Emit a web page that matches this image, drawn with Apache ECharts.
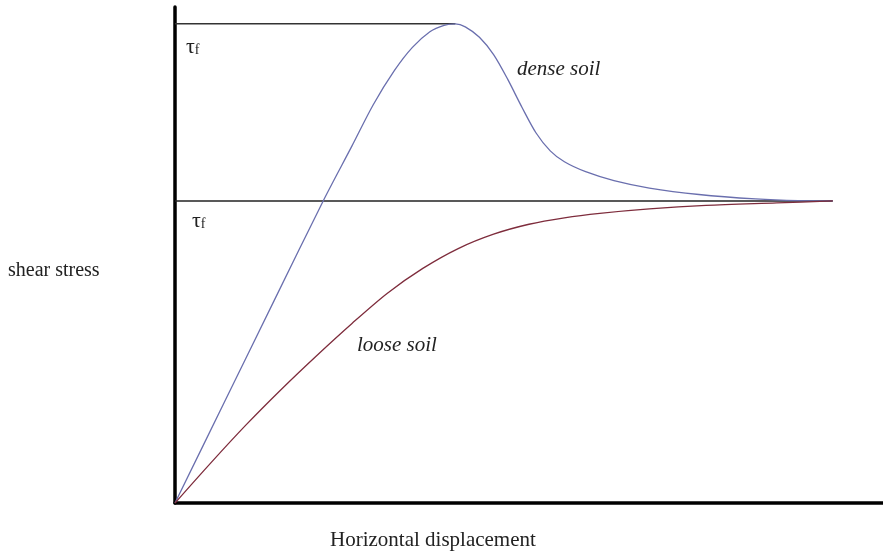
<!DOCTYPE html>
<html>
<head>
<meta charset="utf-8">
<script src="https://cdn.jsdelivr.net/npm/echarts@6/dist/echarts.min.js"></script>
<style>
  html, body { margin: 0; padding: 0; background: #fff; }
  #myChart { width: 883px; height: 557px; }
</style>
</head>
<body>
<div id="myChart"></div>
<script>
// displacement (x) and shear stress (y), arbitrary units
var denseX = [0, 7, 14, 21, 25, 28, 31, 33.5, 36, 38, 39.6, 41, 43, 45, 47, 49, 51, 53, 55, 58, 62, 67, 74, 82, 88, 92.9]
var denseY = [0, 20.4, 40.8, 61.1, 72.0, 80.3, 87.2, 91.8, 95.0, 96.3, 96.6, 96.0, 93.9, 90.4, 85.4, 79.8, 74.6, 71.0, 68.8, 66.8, 65.0, 63.5, 62.2, 61.3, 60.95, 60.9]
var looseX = [0, 5, 10, 15, 20, 25, 30, 35, 40, 45, 50, 55, 60, 67, 75, 85, 92.9]
var looseY = [0, 8.0, 15.7, 22.9, 29.7, 36.2, 42.3, 47.3, 51.3, 54.2, 56.2, 57.5, 58.4, 59.3, 60.0, 60.5, 60.9]
// peak and residual strength lines
var peakX = [0, 39.6]
var peakY = [96.6, 96.6]
var residualX = [0, 92.9]
var residualY = [60.9, 60.9]

function pairs (xs, ys) {
  return xs.map(function (x, i) { return [x, ys[i]] })
}

var serif = '"Liberation Serif", "Times New Roman", serif'

var myChart = echarts.init(document.getElementById('myChart'))
myChart.setOption({
  animation: false,
  backgroundColor: '#fff',
  grid: { left: 175, right: 0, top: 7, bottom: 54 },
  xAxis: {
    type: 'value',
    min: 0,
    max: 100,
    axisLine: { show: true, onZero: false, lineStyle: { color: '#000', width: 3.5 } },
    axisTick: { show: false },
    axisLabel: { show: false },
    splitLine: { show: false }
  },
  yAxis: {
    type: 'value',
    min: 0,
    max: 100,
    axisLine: { show: true, onZero: false, lineStyle: { color: '#000', width: 3.5 } },
    axisTick: { show: false },
    axisLabel: { show: false },
    splitLine: { show: false }
  },
  series: [
    {
      name: 'peak',
      type: 'line',
      data: pairs(peakX, peakY),
      symbol: 'none',
      lineStyle: { color: '#333', width: 1.5 }
    },
    {
      name: 'residual',
      type: 'line',
      data: pairs(residualX, residualY),
      symbol: 'none',
      lineStyle: { color: '#222', width: 1.5 }
    },
    {
      name: 'dense soil',
      type: 'line',
      data: pairs(denseX, denseY),
      symbol: 'none',
      smooth: 0.3,
      lineStyle: { color: '#6a6fae', width: 1.3 }
    },
    {
      name: 'loose soil',
      type: 'line',
      data: pairs(looseX, looseY),
      symbol: 'none',
      smooth: 0.3,
      lineStyle: { color: '#7e2c3c', width: 1.3 }
    }
  ],
  graphic: [
    {
      type: 'text', left: 186, top: 36,
      style: {
        text: '{t|τ}{s|f}',
        rich: {
          t: { fontFamily: serif, fontSize: 22, fill: '#222' },
          s: { fontFamily: serif, fontSize: 14, fill: '#222', padding: [7, 0, 0, 0] }
        }
      }
    },
    {
      type: 'text', left: 192, top: 210,
      style: {
        text: '{t|τ}{s|f}',
        rich: {
          t: { fontFamily: serif, fontSize: 22, fill: '#222' },
          s: { fontFamily: serif, fontSize: 14, fill: '#222', padding: [7, 0, 0, 0] }
        }
      }
    },
    {
      type: 'text', left: 517, top: 59,
      style: { text: 'dense soil', font: 'italic 21px ' + serif, fill: '#222' }
    },
    {
      type: 'text', left: 357, top: 335,
      style: { text: 'loose soil', font: 'italic 21px ' + serif, fill: '#222' }
    },
    {
      type: 'text', left: 8, top: 261,
      style: { text: 'shear stress', font: '20px ' + serif, fill: '#222' }
    },
    {
      type: 'text', left: 330, top: 530,
      style: { text: 'Horizontal displacement', font: '21px ' + serif, fill: '#222' }
    }
  ]
})
</script>
</body>
</html>
